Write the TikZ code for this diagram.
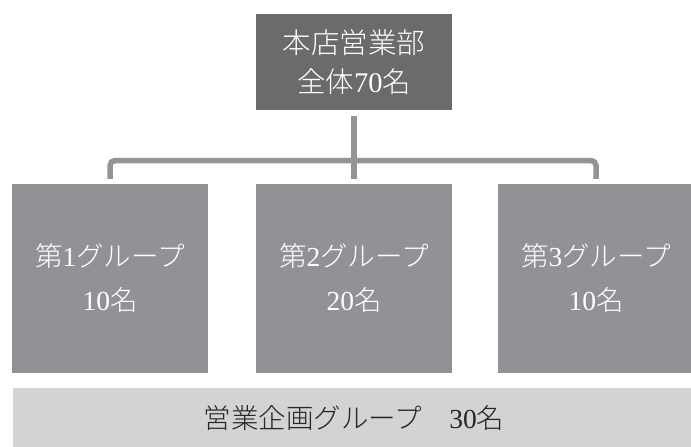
\documentclass[tikz,border=0pt]{standalone}
\usepackage{fontspec}
\newfontfamily\cjk{Noto Sans CJK JP}[UprightFont={* Light}]
\newfontfamily\dig{Liberation Serif}
\newcommand{\nm}[1]{{\dig #1}}
\definecolor{topgray}{HTML}{6B6B6E}
\definecolor{midgray}{HTML}{929296}
\definecolor{lightgray}{HTML}{D2D3D5}
\definecolor{linegray}{HTML}{949498}
\tikzset{
  topbox/.style={rectangle, fill=topgray, text=white, align=center, inner sep=0pt,
    minimum width=196pt, minimum height=96pt, font=\cjk\fontsize{28.5}{39}\selectfont},
  groupbox/.style={rectangle, fill=midgray, text=white, align=center, inner sep=0pt,
    minimum width=196pt, minimum height=189pt, font=\cjk\fontsize{27.5}{44}\selectfont},
  basebox/.style={rectangle, fill=lightgray, text=black!85, align=center, inner sep=0pt,
    minimum width=682pt, minimum height=60pt, font=\cjk\fontsize{27.5}{33}\selectfont},
  conn/.style={draw=linegray, line width=5.5pt, rounded corners=5pt}
}
\begin{document}
\begin{tikzpicture}[x=1pt,y=-1pt]
\useasboundingbox (0,0) rectangle (691,447);
\fill[white] (0,0) rectangle (691,447);
\node[topbox] (top) at (354,62) {本店営業部\\全体\nm{70}名};
\node[groupbox] (g1) at (110,278.5) {第\nm{1}グループ\\\nm{10}名};
\node[groupbox] (g2) at (354,278.5) {第\nm{2}グループ\\\nm{20}名};
\node[groupbox] (g3) at (596,278.5) {第\nm{3}グループ\\\nm{10}名};
\node[basebox] (base) at (354,418) {営業企画グループ　\nm{30}名};
\coordinate (hub) at (354,160.5);
\draw[conn] ([yshift=-6pt]top.south) -- ([yshift=5pt]g2.north);
\draw[conn] ([yshift=5pt]g1.north) |- (hub) -| ([yshift=5pt]g3.north);
\end{tikzpicture}
\end{document}
